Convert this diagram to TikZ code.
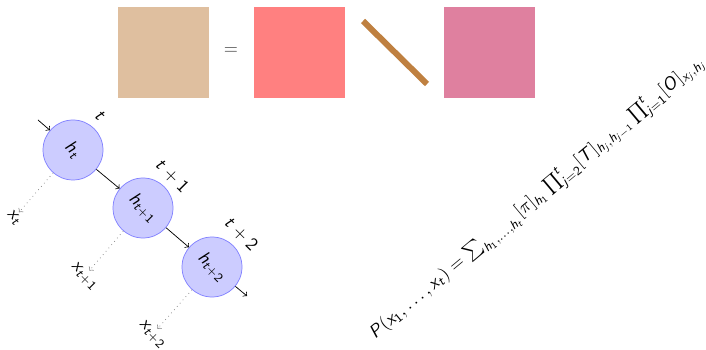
\documentclass[tikz,border=0pt]{standalone}
\usetikzlibrary{arrows}
\DeclareSymbolFont{sfit}{OT1}{cmss}{m}{sl}
\DeclareSymbolFont{sfup}{OT1}{cmss}{m}{n}
\DeclareMathSymbol{P}{\mathalpha}{sfit}{`P}
\DeclareMathSymbol{x}{\mathalpha}{sfit}{`x}
\DeclareMathSymbol{h}{\mathalpha}{sfit}{`h}
\DeclareMathSymbol{t}{\mathalpha}{sfit}{`t}
\DeclareMathSymbol{j}{\mathalpha}{sfit}{`j}
\DeclareMathSymbol{T}{\mathalpha}{sfit}{`T}
\DeclareMathSymbol{O}{\mathalpha}{sfit}{`O}
\DeclareMathSymbol{1}{\mathalpha}{sfup}{`1}
\DeclareMathSymbol{2}{\mathalpha}{sfup}{`2}
\DeclareMathSymbol{+}{\mathbin}{sfup}{`+}
\DeclareMathSymbol{=}{\mathrel}{sfup}{`=}
\begin{document}
\begin{tikzpicture}[x=0.55pt,y=-0.55pt,font=\sffamily,
  hid/.style={circle,draw=blue!50,fill=blue!20,minimum size=33pt,inner sep=0pt},
  lab/.style={rotate=-45},
  obs/.style={rotate=-45,inner sep=1pt},
  tr/.style={->,>=to},
  em/.style={->,>=to,dotted,gray}]
\useasboundingbox (0,0) rectangle (706,350);
\fill[brown!50] (118,7) rectangle (209,98);
\node[text=black!75] (eq) at (231,51) {$=$};
\fill[red!50] (254,7) rectangle (345,98);
\draw[brown,line width=3.3pt] (363,21) -- (427,84);
\fill[purple!50] (444,7) rectangle (535,98);

\node[hid] (h1) at (73,150) {\rotatebox{-45}{$h_t$}};
\node[hid] (h2) at (143,208) {\rotatebox{-45}{$h_{t+1}$}};
\node[hid] (h3) at (212,267) {\rotatebox{-45}{$h_{t+2}$}};
\node[lab] (l1) at (100,116) {$t$};
\node[lab] (l2) at (172,176) {$t+1$};
\node[lab] (l3) at (241,234) {$t+2$};
\node[obs] (x1) at (14,218) {$x_t$};
\node[obs] (x2) at (84,277) {$x_{t+1}$};
\node[obs] (x3) at (152,335) {$x_{t+2}$};
\coordinate (in) at (38,120);
\coordinate (out) at (247,296);
\draw[tr] (in) -- (h1);
\draw[tr] (h1) -- (h2);
\draw[tr] (h2) -- (h3);
\draw[tr] (h3) -- (out);
\draw[em] (h1) -- (x1);
\draw[em] (h2) -- (x2);
\draw[em] (h3) -- (x3);
\node[rotate=40] (f) at (537,198) {$P(x_1,\ldots,x_t)=\sum_{h_1,\ldots,h_t}[\pi]_{h_1}\prod_{j=2}^{t}[T]_{h_j,h_{j-1}}\prod_{j=1}^{t}[O]_{x_j,h_j}$};
\end{tikzpicture}
\end{document}
